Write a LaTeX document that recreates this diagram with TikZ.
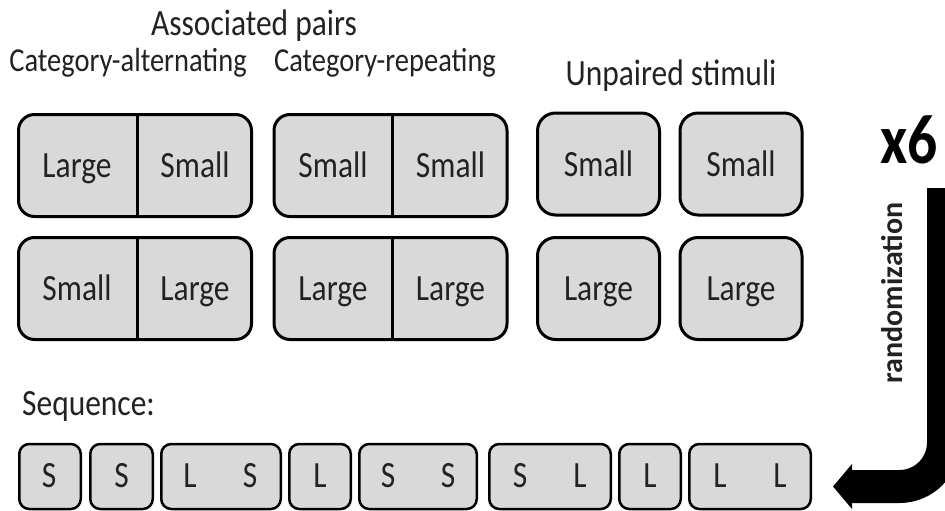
\documentclass[tikz,border=0pt]{standalone}
\usepackage{fontspec}
\setmainfont{Carlito}[FakeStretch=0.85]
\newfontfamily\rotfont{Carlito}
\usetikzlibrary{arrows.meta}
\definecolor{boxgray}{HTML}{D9D9D9}
\definecolor{ink}{HTML}{222222}
\begin{document}
\begin{tikzpicture}[x=1pt,y=-1pt,
  pairbox/.style={draw=black, line width=3pt, fill=boxgray, rounded corners=16pt,
    minimum width=233pt, minimum height=102pt, inner sep=0pt},
  unpbox/.style={draw=black, line width=3pt, fill=boxgray, rounded corners=18pt,
    minimum width=122pt, minimum height=102pt, inner sep=0pt},
  seqbox/.style={draw=black, line width=2.5pt, fill=boxgray, rounded corners=10pt,
    minimum height=65pt, inner sep=0pt},
  divider/.style={draw=black, line width=3pt},
  boxtext/.style={font=\fontsize{37}{40}\selectfont, text=ink, inner sep=0pt, anchor=base},
  head/.style={font=\fontsize{37}{40}\selectfont, text=ink, inner sep=0pt, anchor=base},
  subhead/.style={font=\fontsize{33.5}{36}\selectfont, text=ink, inner sep=0pt, anchor=base},
  bigarrow/.style={line width=33pt, rounded corners=44pt,
    -{Triangle[length=19pt, width=44pt]}},
]
\useasboundingbox (0,0) rectangle (945,511);

% headings
\node[head] (hAssoc) at (254,36) {Associated pairs};
\node[subhead] (hAlt) at (128,72) {Category-alternating};
\node[subhead] (hRep) at (385,72) {Category-repeating};
\node[head] (hUnp) at (671,85) {Unpaired stimuli};

% associated pairs
\node[pairbox] (pA1) at (135,165.5) {};
\node[pairbox] (pA2) at (135,288.5) {};
\node[pairbox] (pB1) at (390.5,165.5) {};
\node[pairbox] (pB2) at (390.5,288.5) {};
\foreach \b in {pA1,pA2,pB1,pB2}
  \draw[divider] ([xshift=2pt]\b.north) -- ([xshift=2pt]\b.south);

\node[boxtext] (tA1l) at (77,177) {Large};
\node[boxtext] (tA1r) at (195,177) {Small};
\node[boxtext] (tA2l) at (77,300) {Small};
\node[boxtext] (tA2r) at (195,300) {Large};
\node[boxtext] (tB1l) at (333,177) {Small};
\node[boxtext] (tB1r) at (450.5,177) {Small};
\node[boxtext] (tB2l) at (333,300) {Large};
\node[boxtext] (tB2r) at (450.5,300) {Large};

% unpaired stimuli
\node[unpbox] (uA1) at (598.5,164) {};
\node[unpbox] (uB1) at (741,164) {};
\node[unpbox] (uA2) at (598.5,288.5) {};
\node[unpbox] (uB2) at (741,288.5) {};
\node[boxtext] (tuA1) at (598.5,176) {Small};
\node[boxtext] (tuB1) at (741,176) {Small};
\node[boxtext] (tuA2) at (598.5,300) {Large};
\node[boxtext] (tuB2) at (741,300) {Large};

% repetition and randomization
\node[font=\fontsize{70}{72}\selectfont\bfseries, text=black, inner sep=0pt, anchor=base]
  (tX6) at (909,163) {x6};
\node[font=\rotfont\fontsize{30}{32}\selectfont\bfseries, text=ink, inner sep=0pt,
  anchor=base, rotate=90] (tRand) at (902,293) {randomization};

% sequence
\node[head, anchor=base west] (hSeq) at (22,415) {Sequence:};
\node[seqbox, minimum width=61.5pt]  (sq1) at (50,476.5) {};
\node[seqbox, minimum width=62.5pt]  (sq2) at (121.5,476.5) {};
\node[seqbox, minimum width=119.5pt] (sq3) at (221,476.5) {};
\node[seqbox, minimum width=61.5pt]  (sq4) at (320,476.5) {};
\node[seqbox, minimum width=117.5pt] (sq5) at (418,476.5) {};
\node[seqbox, minimum width=121.5pt] (sq6) at (550,476.5) {};
\node[seqbox, minimum width=61.5pt]  (sq7) at (650,476.5) {};
\node[seqbox, minimum width=121.5pt] (sq8) at (750,476.5) {};

\node[boxtext] (q1)  at (49,487) {S};
\node[boxtext] (q2)  at (121.5,487) {S};
\node[boxtext] (q3a) at (190,487) {L};
\node[boxtext] (q3b) at (250,487) {S};
\node[boxtext] (q4)  at (320,487) {L};
\node[boxtext] (q5a) at (388,487) {S};
\node[boxtext] (q5b) at (448,487) {S};
\node[boxtext] (q6a) at (520,487) {S};
\node[boxtext] (q6b) at (580,487) {L};
\node[boxtext] (q7)  at (650,487) {L};
\node[boxtext] (q8a) at (720,487) {L};
\node[boxtext] (q8b) at (780,487) {L};

% bent arrow back to the sequence
\coordinate (arrTop) at (943.5,188);
\coordinate (arrTip) at (833,486.5);
\draw[bigarrow] (arrTop) |- (arrTip);
\end{tikzpicture}
\end{document}
